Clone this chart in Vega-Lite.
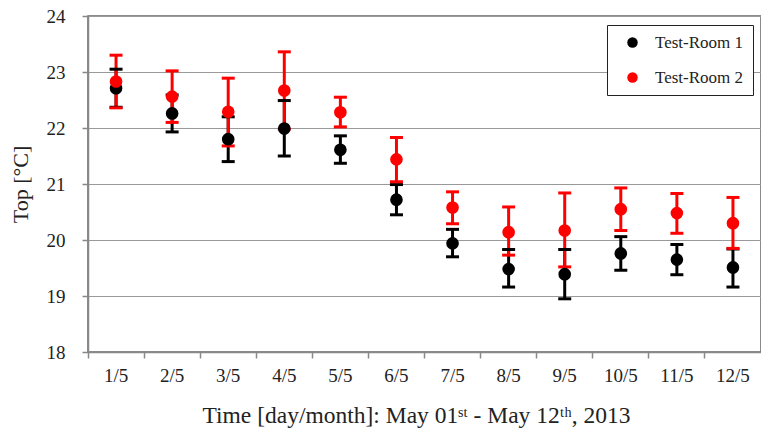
{
  "$schema": "https://vega.github.io/schema/vega-lite/v6.json",
  "width": 673,
  "height": 336,
  "autosize": "none",
  "padding": {"left": 88, "top": 16, "right": 0, "bottom": 81},
  "background": "white",
  "config": {
    "font": "Liberation Serif",
    "view": {"stroke": "#666666", "strokeWidth": 1.5},
    "axis": {"labelFont": "Liberation Serif", "titleFont": "Liberation Serif", "labelColor": "#222222", "titleColor": "#222222", "titleFontWeight": "normal", "domainColor": "#888888", "tickColor": "#888888", "gridColor": "#999999", "domainWidth": 1.5, "tickWidth": 1.5, "gridWidth": 1.2},
    "legend": {"labelFont": "Liberation Serif", "symbolOpacity": 1}
  },
  "data": {
    "values": [
      {"day": "1/5", "room": "Test-Room 1", "mean": 22.71, "lo": 22.37, "hi": 23.05},
      {"day": "2/5", "room": "Test-Room 1", "mean": 22.26, "lo": 21.93, "hi": 22.59},
      {"day": "3/5", "room": "Test-Room 1", "mean": 21.80, "lo": 21.40, "hi": 22.20},
      {"day": "4/5", "room": "Test-Room 1", "mean": 21.99, "lo": 21.50, "hi": 22.49},
      {"day": "5/5", "room": "Test-Room 1", "mean": 21.61, "lo": 21.37, "hi": 21.86},
      {"day": "6/5", "room": "Test-Room 1", "mean": 20.72, "lo": 20.45, "hi": 20.99},
      {"day": "7/5", "room": "Test-Room 1", "mean": 19.94, "lo": 19.70, "hi": 20.19},
      {"day": "8/5", "room": "Test-Room 1", "mean": 19.48, "lo": 19.16, "hi": 19.83},
      {"day": "9/5", "room": "Test-Room 1", "mean": 19.39, "lo": 18.95, "hi": 19.83},
      {"day": "10/5", "room": "Test-Room 1", "mean": 19.76, "lo": 19.46, "hi": 20.06},
      {"day": "11/5", "room": "Test-Room 1", "mean": 19.65, "lo": 19.38, "hi": 19.92},
      {"day": "12/5", "room": "Test-Room 1", "mean": 19.51, "lo": 19.16, "hi": 19.84},
      {"day": "1/5", "room": "Test-Room 2", "mean": 22.83, "lo": 22.36, "hi": 23.30},
      {"day": "2/5", "room": "Test-Room 2", "mean": 22.56, "lo": 22.10, "hi": 23.02},
      {"day": "3/5", "room": "Test-Room 2", "mean": 22.29, "lo": 21.68, "hi": 22.89},
      {"day": "4/5", "room": "Test-Room 2", "mean": 22.67, "lo": 21.98, "hi": 23.36},
      {"day": "5/5", "room": "Test-Room 2", "mean": 22.28, "lo": 22.02, "hi": 22.55},
      {"day": "6/5", "room": "Test-Room 2", "mean": 21.44, "lo": 21.04, "hi": 21.83},
      {"day": "7/5", "room": "Test-Room 2", "mean": 20.58, "lo": 20.29, "hi": 20.86},
      {"day": "8/5", "room": "Test-Room 2", "mean": 20.14, "lo": 19.73, "hi": 20.59},
      {"day": "9/5", "room": "Test-Room 2", "mean": 20.17, "lo": 19.52, "hi": 20.84},
      {"day": "10/5", "room": "Test-Room 2", "mean": 20.55, "lo": 20.17, "hi": 20.93},
      {"day": "11/5", "room": "Test-Room 2", "mean": 20.48, "lo": 20.12, "hi": 20.83},
      {"day": "12/5", "room": "Test-Room 2", "mean": 20.30, "lo": 19.85, "hi": 20.76}
    ]
  },
  "encoding": {
    "x": {
      "field": "day", "type": "ordinal",
      "sort": ["1/5","2/5","3/5","4/5","5/5","6/5","7/5","8/5","9/5","10/5","11/5","12/5"],
      "scale": {"paddingInner": 0, "paddingOuter": 0},
      "axis": {"labelAngle": 0, "labelFont": "Liberation Serif", "titleFont": "Liberation Serif", "labelFontSize": 19, "titleFontSize": 23.5, "tickSize": 6, "bandPosition": 0, "labelPadding": 8, "titlePadding": 18, "titleX": 328, "grid": false,
               "title": "Time [day/month]: May 01ˢᵗ - May 12ᵗʰ, 2013"}
    },
    "color": {
      "field": "room", "type": "nominal",
      "scale": {"domain": ["Test-Room 1", "Test-Room 2"], "range": ["#000000", "#ff0000"]},
      "legend": {"title": null, "orient": "none", "legendX": 519, "legendY": 9, "labelFont": "Liberation Serif", "labelFontSize": 17, "labelColor": "#222222", "symbolType": "circle", "symbolSize": 110, "symbolOpacity": 1, "symbolStrokeWidth": 0, "symbolOffset": 8, "labelOffset": 14, "rowPadding": 17, "padding": 9, "strokeColor": "#222222", "fillColor": "white", "labelLimit": 200}
    }
  },
  "layer": [
    {
      "mark": {"type": "rule", "strokeWidth": 3, "opacity": 1},
      "encoding": {
        "y": {"field": "lo", "type": "quantitative", "scale": {"domain": [18, 24], "nice": false, "zero": false},
              "axis": {"values": [18,19,20,21,22,23,24], "format": "d", "labelFont": "Liberation Serif", "titleFont": "Liberation Serif", "labelFontSize": 19, "titleFontSize": 22, "tickSize": 6, "labelPadding": 17, "titlePadding": 14, "title": "Top [°C]", "grid": true}},
        "y2": {"field": "hi"}
      }
    },
    {
      "mark": {"type": "tick", "size": 13, "thickness": 3, "orient": "horizontal", "opacity": 1},
      "encoding": {"y": {"field": "hi", "type": "quantitative"}}
    },
    {
      "mark": {"type": "tick", "size": 13, "thickness": 3, "orient": "horizontal", "opacity": 1},
      "encoding": {"y": {"field": "lo", "type": "quantitative"}}
    },
    {
      "mark": {"type": "point", "filled": true, "shape": "circle", "size": 160, "opacity": 1},
      "encoding": {"y": {"field": "mean", "type": "quantitative"}}
    }
  ]
}
